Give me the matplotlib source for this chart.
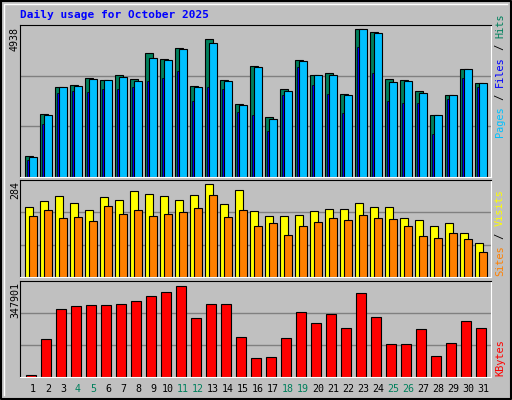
import matplotlib
matplotlib.use("Agg")
import matplotlib.pyplot as plt
import numpy as np

days = list(range(1, 32))
weekend = [4, 5, 11, 12, 18, 19, 25, 26]

hits = [715, 2123, 2994, 3061, 3296, 3229, 3396, 3262, 4145, 3933, 4301, 3028, 4603, 3229, 2458, 3698,
        2022, 2927, 3899, 3396, 3463, 2760, 4938, 4838, 3262, 3229, 2860, 2089, 2726, 3597, 3128]
files = [681, 2089, 2994, 3028, 3262, 3229, 3329, 3195, 3966, 3899, 4268, 2994, 4469, 3195, 2424, 3664,
         1955, 2860, 3866, 3396, 3396, 2726, 4938, 4804, 3162, 3195, 2793, 2089, 2726, 3597, 3128]
pages = [581, 1788, 2793, 2860, 2827, 2927, 2927, 2994, 3195, 3296, 3530, 2525, 2994, 2927, 2190, 2089,
         1553, 2726, 3664, 3061, 2760, 2156, 4335, 3463, 2558, 2491, 2491, 1452, 2592, 3296, 2994]
visits = [213, 232, 247, 225, 204, 244, 235, 262, 253, 247, 235, 250, 284, 222, 265, 201,
          185, 185, 188, 201, 207, 207, 225, 213, 213, 179, 173, 157, 164, 133, 105]
sites = [185, 204, 179, 182, 170, 216, 191, 204, 185, 194, 198, 210, 250, 182, 204, 157,
         164, 127, 157, 167, 179, 173, 188, 179, 176, 157, 124, 120, 133, 117, 77]
kbytes = [8890, 146014, 260294, 271721, 275530, 275530, 279339, 290767, 309813, 325050, 347901, 226009,
          279339, 279339, 153632, 73643, 77452, 149823, 248866, 206966, 241248, 187917, 321241, 229818,
          126971, 126971, 184108, 81261, 130780, 214584, 187917]

BG = "#C0C0C0"
W, H = 512, 400
fig = plt.figure(figsize=(W / 100, H / 100), dpi=100, facecolor=BG)

# outer frame
frame = fig.add_axes([0, 0, 1, 1])
frame.set_xlim(0, W); frame.set_ylim(H, 0); frame.axis("off")
frame.plot([1, W - 1, W - 1, 1, 1], [1, 1, H - 1, H - 1, 1], color="black", lw=1.5)
frame.plot([4, 4, W - 5], [H - 5, 4, 4], color="white", lw=1)

def panel(y0, y1):
    ax = fig.add_axes([20 / W, 1 - y1 / H, 470.7 / W, (y1 - y0) / H])
    ax.set_facecolor(BG)
    ax.set_xlim(0, 470.7)
    ax.set_xticks([]); ax.set_yticks([])
    for s in ("top", "left"):
        ax.spines[s].set_color("black")
    for s in ("bottom", "right"):
        ax.spines[s].set_color("white")
    return ax

x = np.arange(31) * 15.0
kw = dict(edgecolor="black", linewidth=0.8, align="edge")

ax1 = panel(25, 177)
top1 = 4938 * 455 / 442
ax1.set_ylim(0, top1)
for g in (top1 / 3, 2 * top1 / 3):
    ax1.axhline(g, color="#808080", lw=1, zorder=0)
ax1.bar(x + 5.3, hits, width=8, color="#00805C", **kw)
ax1.bar(x + 7.3, pages, width=2, color="#0000FF", edgecolor="black", linewidth=0.5, align="edge")
ax1.bar(x + 9.3, files, width=7.4, color="#00C0FF", **kw)

ax2 = panel(180, 277)
top2 = 284 * 288 / 276
ax2.set_ylim(0, top2)
for g in (top2 / 3, 2 * top2 / 3):
    ax2.axhline(g, color="#808080", lw=1, zorder=0)
ax2.bar(x + 5.3, visits, width=8, color="#FFFF00", **kw)
ax2.bar(x + 9.3, sites, width=7.4, color="#FF8000", **kw)

ax3 = panel(281, 377)
top3 = 347901 * 289 / 274
ax3.set_ylim(0, top3)
for g in (top3 / 3, 2 * top3 / 3):
    ax3.axhline(g, color="#808080", lw=1, zorder=0)
ax3.bar(x + 6.3, kbytes, width=10, color="#FF0000", **kw)

mono = "DejaVu Sans Mono"
fig.text(20 / W, 1 - 15 / H, "Daily usage for October 2025", color="#0000FF",
         fontsize=8, fontweight="bold", family=mono, va="center", ha="left")

for d, xi in zip(days, x):
    fig.text((20 + xi + 13) / W, 1 - 389 / H, str(d), fontsize=7.2, family=mono,
             ha="center", va="center", color="#00805C" if d in weekend else "black")

for txt, ytop in (("4938", 27), ("284", 181), ("347901", 282)):
    fig.text(15 / W, 1 - ytop / H, txt, rotation=90, fontsize=7.2, family=mono,
             ha="center", va="top")

def side(parts, ybottom):
    y = ybottom
    for txt, col in parts:
        fig.text(500 / W, 1 - y / H, txt, rotation=90, fontsize=7.4, family=mono,
                 color=col, ha="center", va="bottom")
        y -= len(txt) * 6.2

side([("Pages", "#00C0FF"), (" / ", "black"), ("Files", "#0000FF"), (" / ", "black"),
      ("Hits", "#00805C")], 137)
side([("Sites", "#FF8000"), (" / ", "black"), ("Visits", "#FFFF00")], 276)
side([("KBytes", "#FF0000")], 376)

fig.savefig("out.png", dpi=100, facecolor=BG)
